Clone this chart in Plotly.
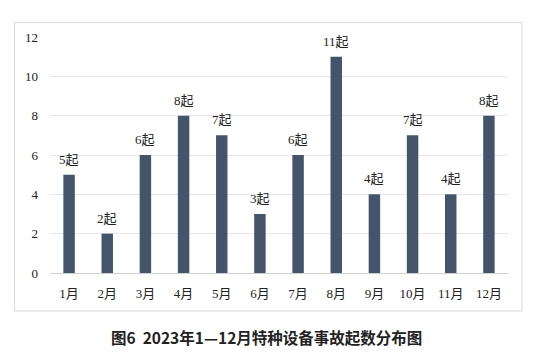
import plotly.graph_objects as go

months = ["1月", "2月", "3月", "4月", "5月", "6月", "7月", "8月", "9月", "10月", "11月", "12月"]
counts = [5, 2, 6, 8, 7, 3, 6, 11, 4, 7, 4, 8]
labels = [f"{v}起" for v in counts]
y_ticks = [0, 2, 4, 6, 8, 10, 12]
title = "图6  2023年1—12月特种设备事故起数分布图"

serif = "Liberation Serif, Noto Sans CJK SC, serif"

fig = go.Figure(go.Bar(
    x=months, y=counts,
    marker=dict(color="#44546A", line=dict(width=0)),
    cliponaxis=False,
))

OFF = 8  # default page body margin
W, H = 545, 357
PL, PT, PR, PB = 50, 37, 508, 273  # target plot area in page pixels
L, T = PL - OFF, PT - OFF
pw, ph = PR - PL, PB - PT
R, B = W - L - pw, H - T - ph

def px(x):
    return (x - PL) / pw

def py(y):
    return (PB - y) / ph

annotations = [dict(x=m, y=v, text=t, xref="x", yref="y", yanchor="bottom",
                    yshift=6, showarrow=False,
                    font=dict(family=serif, size=13, color="#222222"))
               for m, v, t in zip(months, counts, labels)]
annotations.append(dict(text="<b>" + title.replace("  ", "\u00a0\u00a0") + "</b>",
                        xref="paper", yref="paper",
                        x=px(266.5), y=py(337), xanchor="center", yanchor="middle",
                        showarrow=False,
                        font=dict(family="Noto Sans CJK SC, sans-serif", size=15.5, color="#222222")))

fig.update_layout(
    width=W, height=H,
    margin=dict(l=L, r=R, t=T, b=B, autoexpand=False),
    paper_bgcolor="white", plot_bgcolor="white",
    bargap=0.70, showlegend=False,
    xaxis=dict(showgrid=False, showline=False, ticks="", ticklabelstandoff=11,
               tickfont=dict(family=serif, size=13, color="#222222")),
    yaxis=dict(range=[0, 12], tickvals=y_ticks, showgrid=True, gridcolor="#e6e6e6",
               zeroline=True, zerolinecolor="#d0d0d0", zerolinewidth=1,
               showline=False, ticks="", ticklabelstandoff=11,
               tickfont=dict(family=serif, size=13, color="#222222")),
    shapes=[dict(type="rect", xref="paper", yref="paper",
                 x0=px(14.5), x1=px(522), y0=py(311), y1=py(22.5),
                 line=dict(color="#d9d9d9", width=1), layer="below")],
    annotations=annotations,
)

fig.write_html("out.html")
